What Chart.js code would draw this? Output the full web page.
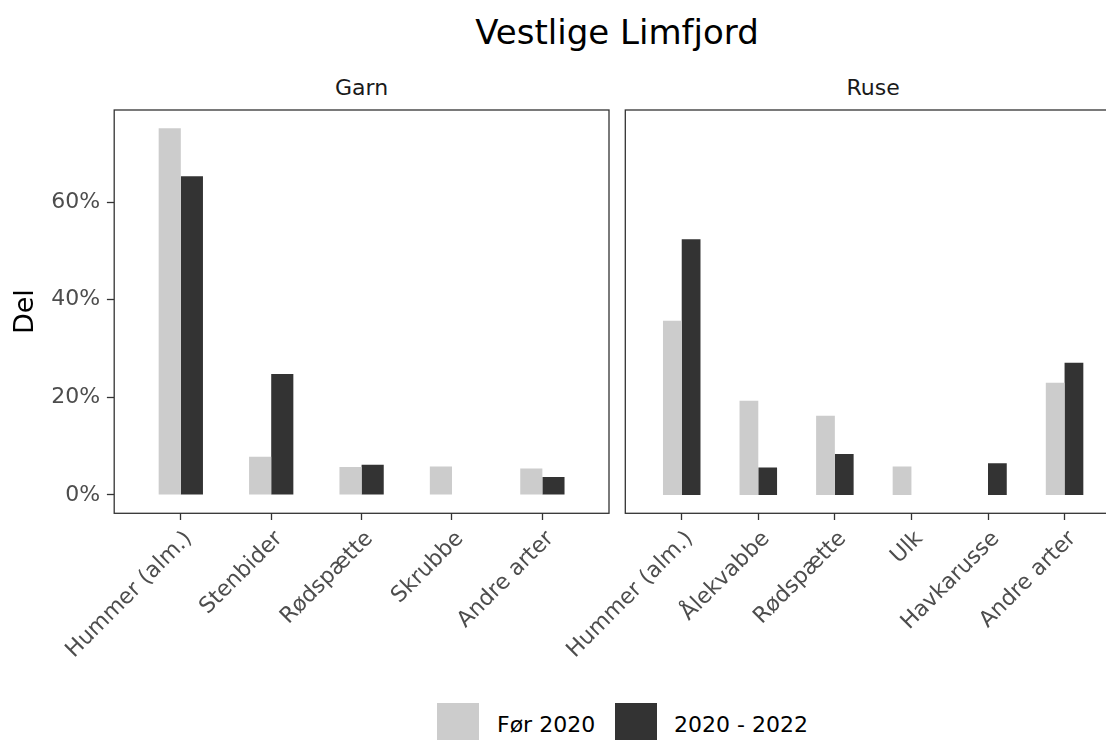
<!DOCTYPE html>
<html>
<head>
<meta charset="utf-8">
<script src="https://cdn.jsdelivr.net/npm/chart.js@4.4.1/dist/chart.umd.min.js"></script>
<style>
  html, body { margin: 0; padding: 0; background: #fff; overflow: hidden; }
  #wrap { position: relative; width: 1106px; height: 740px; overflow: hidden; background: #fff; font-family: 'DejaVu Sans', sans-serif; }
  .txt { position: absolute; white-space: nowrap; line-height: 1; }
  canvas { position: absolute; }
  .key { position: absolute; width: 42px; height: 42px; }
</style>
</head>
<body>
<div id="wrap">
  <div class="txt" id="title" style="font-size:34px; color:#000; top:14.5px; left:0; width:1234px; text-align:center;">Vestlige Limfjord</div>
  <div class="txt" style="font-size:22px; color:#1a1a1a; top:76.9px; left:114.2px; width:494.8px; text-align:center;">Garn</div>
  <div class="txt" style="font-size:22px; color:#1a1a1a; top:76.9px; left:625.3px; width:495.8px; text-align:center;">Ruse</div>
  <div class="canvasbox" style="position:absolute; left:0; top:100px; width:620px; height:600px;"><canvas id="c1"></canvas></div>
  <div class="canvasbox" style="position:absolute; left:500px; top:100px; width:635px; height:600px;"><canvas id="c2"></canvas></div>
  <div class="key" style="left:437.3px; top:703px; background:#cccccc;"></div>
  <div class="txt" style="font-size:22px; color:#000; top:714.1px; left:497px;">Før 2020</div>
  <div class="key" style="left:615px; top:703px; background:#333333;"></div>
  <div class="txt" style="font-size:22px; color:#000; top:714.1px; left:674px;">2020 - 2022</div>
</div>
<script>
// ---- Data (shares in %) ----
const seriesNames = ['Før 2020', '2020 - 2022'];
const garnCategories = ['Hummer (alm.)', 'Stenbider', 'Rødspætte', 'Skrubbe', 'Andre arter'];
const garnBefore2020 = [75.1, 7.8, 5.7, 5.85, 5.4];
const garn2020to2022 = [65.3, 24.8, 6.2, null, 3.7];
const ruseCategories = ['Hummer (alm.)', 'Ålekvabbe', 'Rødspætte', 'Ulk', 'Havkarusse', 'Andre arter'];
const ruseBefore2020 = [35.7, 19.3, 16.2, 5.85, null, 23.0];
const ruse2020to2022 = [52.4, 5.6, 8.4, null, 6.5, 27.1];
const yTickValues = [0, 20, 40, 60];

const colors = ['#cccccc', '#333333'];
const FONT = "'DejaVu Sans', sans-serif";

const boxPlugin = {
  id: 'panelBox',
  afterDraw(chart) {
    const a = chart.chartArea, ctx = chart.ctx;
    ctx.save();
    ctx.strokeStyle = '#333333';
    ctx.lineWidth = 1.3;
    ctx.strokeRect(a.left, a.top, a.right - a.left, a.bottom - a.top);
    ctx.restore();
  }
};

function toPoints(vals) { return vals.map((v, i) => ({ x: i + 1, y: v })); }

function makeChart(id, cats, s1, s2, showY, padding) {
  const n = cats.length;
  return new Chart(document.getElementById(id), {
    type: 'bar',
    data: {
      datasets: [
        { label: seriesNames[0], data: toPoints(s1), backgroundColor: colors[0], borderWidth: 0 },
        { label: seriesNames[1], data: toPoints(s2), backgroundColor: colors[1], borderWidth: 0 }
      ]
    },
    plugins: [boxPlugin],
    options: {
      responsive: true,
      maintainAspectRatio: false,
      animation: false,
      datasets: { bar: { categoryPercentage: 0.49, barPercentage: 1.0 } },
      layout: { padding: padding },
      plugins: { legend: { display: false }, tooltip: { enabled: false }, title: { display: false } },
      scales: {
        x: {
          type: 'linear',
          min: 1 - 0.737,
          max: n + 0.737,
          offset: false,
          afterBuildTicks: ax => { ax.ticks = cats.map((c, i) => ({ value: i + 1 })); },
          afterFit: ax => { ax.height = 600 - 10 - 403.3; ax.paddingLeft = 0; ax.paddingRight = 0; },
          grid: { display: true, drawOnChartArea: false, drawTicks: true, offset: false, tickLength: 6.7, tickColor: '#333333', tickWidth: 1.3 },
          border: { display: false },
          ticks: {
            autoSkip: false,
            maxRotation: 45, minRotation: 45,
            padding: 6,
            labelOffset: 8,
            color: '#4d4d4d',
            font: { family: FONT, size: 22 },
            callback: v => cats[Math.round(v) - 1]
          }
        },
        y: {
          display: showY,
          min: -3.76,
          max: 78.86,
          afterBuildTicks: ax => { ax.ticks = yTickValues.map(v => ({ value: v })); },
          afterFit: ax => { if (showY) ax.width = 114.2; ax.paddingTop = 0; ax.paddingBottom = 0; },
          grid: { display: true, drawOnChartArea: false, drawTicks: true, tickLength: 7.3, tickColor: '#333333', tickWidth: 1.3 },
          border: { display: false },
          title: { display: showY, text: 'Del', color: '#000', font: { family: FONT, size: 27, lineHeight: 1.2 }, padding: { top: 9.5, bottom: 0 } },
          ticks: {
            padding: 6.8,
            color: '#4d4d4d',
            font: { family: FONT, size: 22 },
            callback: v => v + '%'
          }
        }
      }
    }
  });
}

makeChart('c1', garnCategories, garnBefore2020, garn2020to2022, true, { top: 10, left: 0, right: 11, bottom: 0 });
makeChart('c2', ruseCategories, ruseBefore2020, ruse2020to2022, false, { top: 10, left: 125.3, right: 14, bottom: 0 });
</script>
</body>
</html>
